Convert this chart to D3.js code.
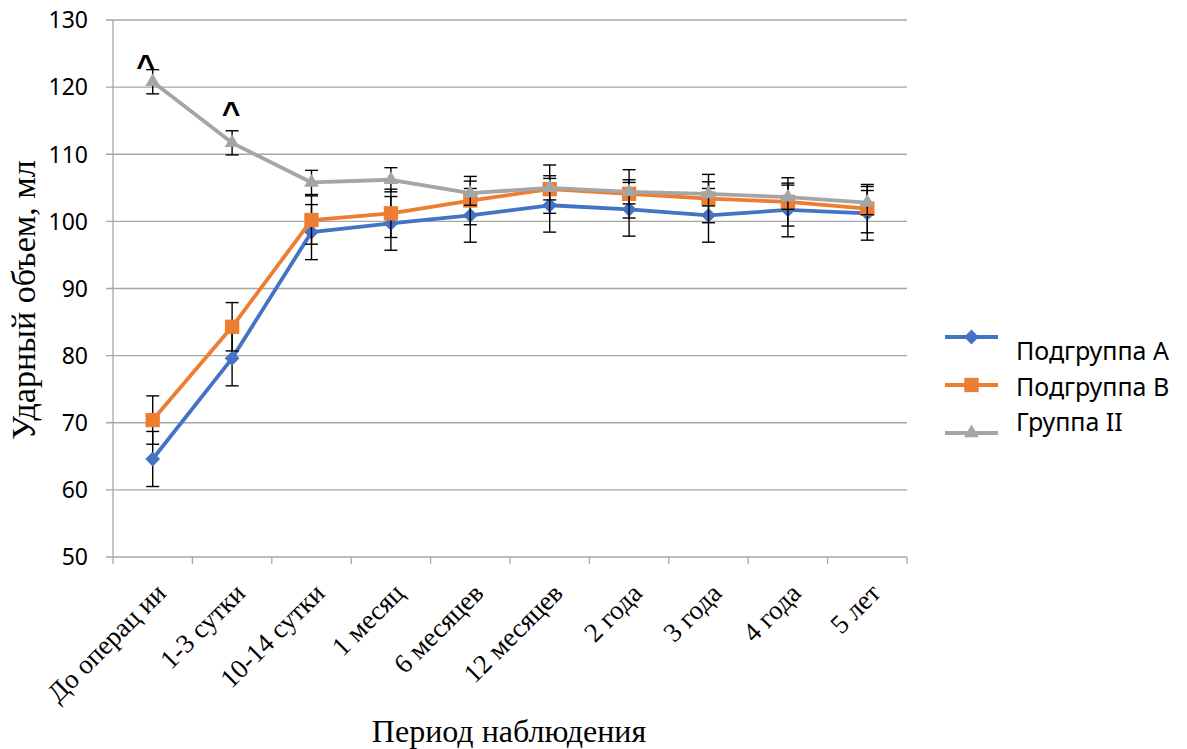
<!DOCTYPE html>
<html>
<head>
<meta charset="utf-8">
<script src="https://cdn.jsdelivr.net/npm/d3@7/dist/d3.min.js"></script>
<style>
  body { margin: 0; background: #fff; }
  svg { display: block; }
</style>
</head>
<body>
<svg id="chart" width="1187" height="749"></svg>
<script>
'use strict';

// categories and values
const periods = ["До операц ии", "1-3 сутки", "10-14 сутки", "1 месяц", "6 месяцев",
                 "12 месяцев", "2 года", "3 года", "4 года", "5 лет"];
const subA = [64.6, 79.6, 98.4, 99.7, 100.9, 102.4, 101.8, 100.9, 101.7, 101.2];
const errA = [4.1, 4.1, 4.1, 4.0, 4.0, 4.0, 4.0, 4.0, 4.0, 4.0];
const subB = [70.4, 84.3, 100.2, 101.2, 103.1, 104.8, 104.1, 103.4, 102.9, 101.9];
const errB = [3.6, 3.6, 3.6, 3.6, 3.6, 3.6, 3.6, 3.6, 3.6, 3.6];
const grpII = [120.8, 111.7, 105.8, 106.2, 104.2, 105.0, 104.4, 104.1, 103.6, 102.8];
const errII = [1.8, 1.8, 1.8, 1.8, 1.8, 1.8, 1.8, 1.8, 1.8, 1.8];
const yTicks = [50, 60, 70, 80, 90, 100, 110, 120, 130];
const marks = ["^", "^", "", "", "", "", "", "", "", ""];  // significance marks on Группа II

const series = [
    { name: "Подгруппа А", values: subA, err: errA, color: "#4472C4", symbol: d3.symbolDiamond2, size: 140 },
    { name: "Подгруппа В", values: subB, err: errB, color: "#ED7D31", symbol: d3.symbolSquare, size: 205 },
    { name: "Группа II", values: grpII, err: errII, color: "#A5A5A5", symbol: d3.symbolTriangle, size: 95 }
];

const svg = d3.select("#chart");
const plotL = 113, plotR = 907, plotT = 20, plotB = 557;

const x = d3.scaleBand().domain(periods).range([plotL, plotR]);
const y = d3.scaleLinear().domain([50, 130]).range([plotB, plotT]);
const cx = function (d) { return x(d) + x.bandwidth() / 2; };

// gridlines
svg.append("g")
    .selectAll("line")
    .data(yTicks)
    .enter().append("line")
    .attr("x1", plotL - 7).attr("x2", plotR)
    .attr("y1", d => y(d)).attr("y2", d => y(d))
    .attr("stroke", "#a6a6a6").attr("stroke-width", 1.3);

// y axis line
svg.append("line")
    .attr("x1", plotL).attr("x2", plotL)
    .attr("y1", plotT).attr("y2", plotB)
    .attr("stroke", "#a6a6a6").attr("stroke-width", 1.3);

// x tick marks at band edges
const edges = periods.map(p => x(p)).concat([plotR]);
svg.append("g")
    .selectAll("line")
    .data(edges)
    .enter().append("line")
    .attr("x1", d => d).attr("x2", d => d)
    .attr("y1", plotB).attr("y2", plotB + 7)
    .attr("stroke", "#a6a6a6").attr("stroke-width", 1.3);

// y tick labels
svg.append("g")
    .selectAll("text")
    .data(yTicks)
    .enter().append("text")
    .attr("x", plotL - 25)
    .attr("y", d => y(d))
    .attr("dy", "0.36em")
    .attr("text-anchor", "end")
    .style("font-family", "'Noto Sans', sans-serif")
    .style("font-size", "23px")
    .text(d => d);

// x tick labels, rotated
svg.append("g")
    .selectAll("text")
    .data(periods)
    .enter().append("text")
    .attr("transform", d => "translate(" + (cx(d) + 8) + "," + (plotB + 31) + ") rotate(-45)")
    .attr("text-anchor", "end")
    .attr("dy", "0.35em")
    .style("font-family", "'Liberation Serif', 'Times New Roman', serif")
    .style("font-size", "27px")
    .text(d => d);

// axis titles
svg.append("text")
    .attr("transform", "translate(35,300) rotate(-90)")
    .attr("text-anchor", "middle")
    .style("font-family", "'Liberation Serif', 'Times New Roman', serif")
    .style("font-size", "34px")
    .text("Ударный объем, мл");

svg.append("text")
    .attr("x", 509)
    .attr("y", 742)
    .attr("text-anchor", "middle")
    .style("font-family", "'Liberation Serif', 'Times New Roman', serif")
    .style("font-size", "32px")
    .text("Период наблюдения");

const line = d3.line()
    .x((v, i) => cx(periods[i]))
    .y(v => y(v));

series.forEach(function (s) {
    const g = svg.append("g");
    // error bars
    const eb = g.selectAll(".eb")
        .data(s.values)
        .enter().append("g");
    eb.append("line")
        .attr("x1", (v, i) => cx(periods[i])).attr("x2", (v, i) => cx(periods[i]))
        .attr("y1", (v, i) => y(v - s.err[i])).attr("y2", (v, i) => y(v + s.err[i]))
        .attr("stroke", "#000").attr("stroke-width", 1.4);
    [-1, 1].forEach(function (sign) {
        eb.append("line")
            .attr("x1", (v, i) => cx(periods[i]) - 6.5).attr("x2", (v, i) => cx(periods[i]) + 6.5)
            .attr("y1", (v, i) => y(v + sign * s.err[i])).attr("y2", (v, i) => y(v + sign * s.err[i]))
            .attr("stroke", "#000").attr("stroke-width", 1.4);
    });
    g.append("path")
        .datum(s.values)
        .attr("d", line)
        .attr("fill", "none")
        .attr("stroke", s.color)
        .attr("stroke-width", 3.8)
        .attr("stroke-linejoin", "round");
    g.selectAll(".mk")
        .data(s.values)
        .enter().append("path")
        .attr("d", d3.symbol().type(s.symbol).size(s.size))
        .attr("transform", (v, i) => "translate(" + cx(periods[i]) + "," + y(v) + ")")
        .attr("fill", s.color);
});

// significance marks (labels were nudged by hand in the original)
const markNudge = [[-7, -5], [-1, -18.5]];
svg.append("g")
    .selectAll("text")
    .data(grpII.slice(0, markNudge.length))
    .enter().append("text")
    .attr("x", (v, i) => cx(periods[i]) + markNudge[i][0])
    .attr("y", (v, i) => y(v) + markNudge[i][1])
    .attr("text-anchor", "middle")
    .style("font-family", "'Liberation Sans', sans-serif")
    .style("font-weight", "bold")
    .style("font-size", "32px")
    .text((v, i) => marks[i]);

// legend
const legend = svg.append("g");
const lg = legend.selectAll("g")
    .data(series)
    .enter().append("g");
lg.append("line")
    .attr("x1", 945).attr("x2", 998)
    .attr("y1", (s, i) => 337 + i * 48).attr("y2", (s, i) => 337 + i * 48)
    .attr("stroke", s => s.color).attr("stroke-width", 3.8);
lg.append("path")
    .attr("d", s => d3.symbol().type(s.symbol).size(s.size)())
    .attr("transform", (s, i) => "translate(971.5," + (337 + i * 48) + ")")
    .attr("fill", s => s.color);
lg.append("text")
    .attr("x", 1016)
    .attr("y", (s, i) => 360 + i * 35.5)
    .style("font-family", "'Noto Sans', sans-serif")
    .style("font-size", "25px")
    .text(s => s.name);
</script>
</body>
</html>
